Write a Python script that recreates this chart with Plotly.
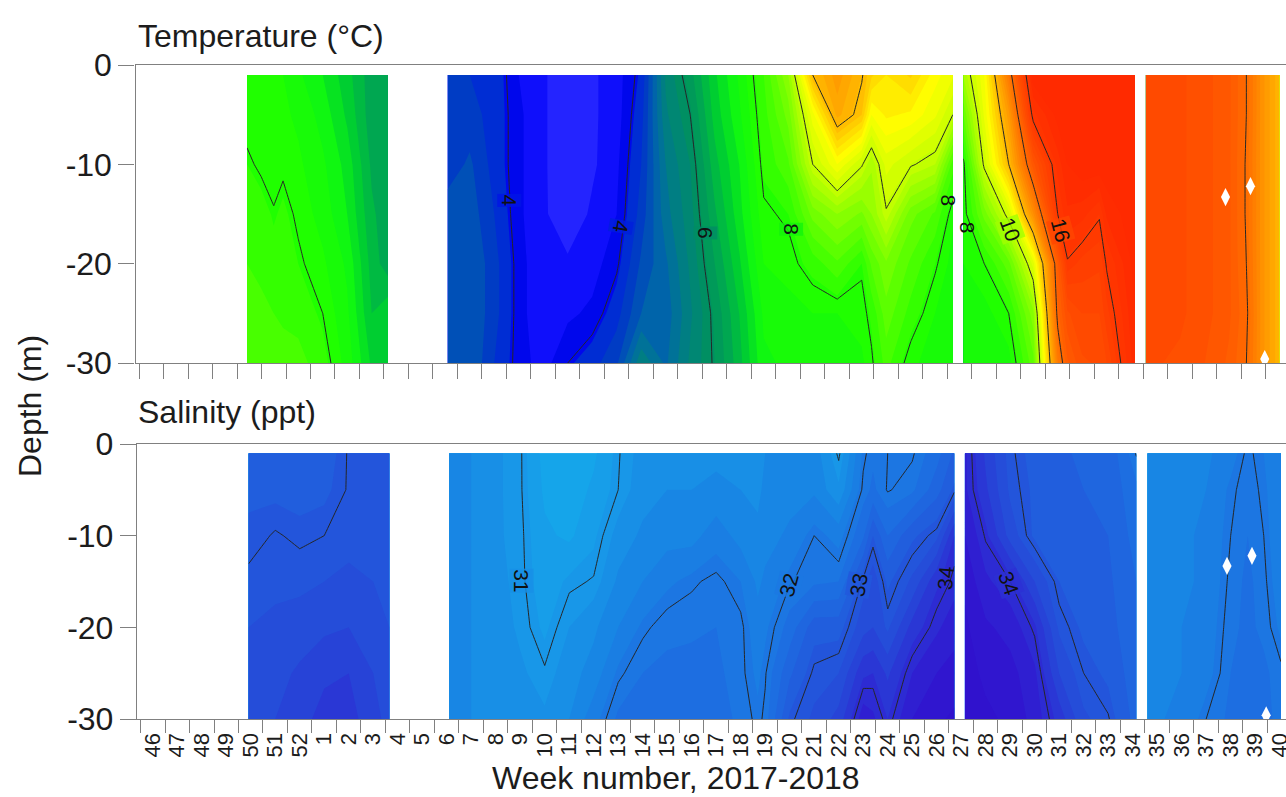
import numpy as np
import plotly.graph_objects as go

# ---------- categories ----------
WEEKS = [46, 47, 48, 49, 50, 51, 52] + list(range(1, 41))
DEPTHS = [-1, -5, -10, -15, -20, -25, -30]

# ---------- column positions (in week slots, 0 = week 46) ----------
X_SEG1_T = [4.41, 4.99, 5.5, 5.88, 6.5, 7.5, 8.5, 9.5, 10.16]
X_SEG1_S = [4.41, 5.5, 6.5, 7.5, 8.5, 9.5, 10.16]
X_SEG2_T = [12.6, 13.5, 14.5, 15.5, 16.5, 17.5, 18.5, 19.5, 20.5, 21.5, 22.5, 23.5, 24.5, 25.5, 26.5, 27.5, 28.5, 29.5, 29.9, 30.5, 31.5, 32.5, 33.22]
X_SEG2_S = [12.6, 13.5, 14.5, 15.5, 16.5, 17.5, 18.5, 19.5, 20.5, 21.5, 22.5, 23.5, 24.5, 25.2, 25.5, 26.5, 27.5, 28.5, 29.5, 29.9, 30.5, 31.5, 32.5, 33.22]
X_SEG3_T = [33.65, 34.5, 35.5, 36.5, 37.5, 37.9, 38.5, 39.2, 39.5, 40.65]
X_SEG3_S = [33.65, 34.5, 35.5, 36.5, 37.5, 38.5, 39.5, 40.65]
X_SEG4 = [41.1, 42.5, 43.5, 44.5, 45.2, 45.85, 46.55]

# ---------- temperature, one row per column, values top to bottom ----------
T_SEG1 = [
    [7.9, 7.9, 8.05, 8.2, 8.3, 8.35, 8.5],
    [7.85, 7.9, 7.95, 8.15, 8.25, 8.35, 8.45],
    [7.9, 7.9, 7.9, 8.02, 8.15, 8.3, 8.45],
    [7.8, 7.85, 7.95, 8.1, 8.15, 8.25, 8.42],
    [7.6, 7.75, 7.85, 7.95, 8.05, 8.2, 8.4],
    [7.3, 7.45, 7.6, 7.7, 7.85, 8.0, 8.15],
    [6.9, 7.0, 7.2, 7.3, 7.5, 7.6, 7.7],
    [6.4, 6.4, 6.5, 6.6, 6.7, 6.8, 7.0],
    [6.4, 6.4, 6.4, 6.4, 6.4, 7.0, 6.8],
]
T_SEG2 = [
    [4.4, 4.4, 4.4, 4.7, 4.8, 4.8, 4.8],
    [4.3, 4.4, 4.6, 4.7, 4.8, 4.8, 4.8],
    [4.2, 4.2, 4.2, 4.3, 4.4, 4.4, 4.3],
    [3.8, 3.85, 3.85, 3.85, 3.9, 3.9, 3.9],
    [3.6, 3.6, 3.6, 3.6, 3.6, 3.6, 3.7],
    [3.3, 3.3, 3.3, 3.35, 3.6, 3.75, 4.0],
    [3.5, 3.5, 3.5, 3.6, 3.7, 3.85, 4.2],
    [3.7, 3.7, 3.75, 3.8, 3.95, 4.2, 4.5],
    [4.1, 4.2, 4.3, 4.4, 4.6, 4.8, 5.5],
    [5.6, 5.5, 5.3, 5.2, 5.0, 4.9, 5.0],
    [6.2, 6.0, 5.8, 5.7, 5.6, 5.5, 5.6],
    [7.0, 6.9, 6.7, 6.5, 6.3, 6.1, 6.05],
    [7.6, 7.5, 7.3, 7.2, 7.0, 6.8, 6.7],
    [8.3, 8.2, 8.1, 7.95, 7.8, 7.6, 7.5],
    [9.3, 8.9, 8.5, 8.05, 7.9, 7.7, 7.6],
    [12.0, 10.7, 10.0, 8.9, 8.15, 7.8, 7.65],
    [12.7, 12.4, 10.8, 9.3, 8.5, 7.8, 7.65],
    [12.05, 11.8, 10.05, 9.0, 8.05, 7.9, 7.75],
    [11.6, 10.8, 9.6, 9.3, 8.6, 8.1, 7.95],
    [11.3, 11.1, 10.4, 9.95, 9.0, 8.7, 8.4],
    [11.6, 11.0, 10.05, 8.9, 8.5, 8.2, 7.85],
    [10.9, 10.6, 9.8, 8.5, 8.05, 7.8, 7.7],
    [10.6, 10.0, 8.4, 7.85, 7.7, 7.6, 7.6],
]
T_SEG3 = [
    [9.6, 8.8, 7.9, 7.85, 7.8, 7.7, 7.6],
    [10.8, 10.6, 10.1, 8.9, 8.0, 7.7, 7.6],
    [13.6, 12.7, 12.0, 10.2, 8.7, 8.0, 7.7],
    [17.0, 16.2, 14.7, 13.0, 10.4, 9.2, 8.7],
    [17.0, 16.9, 16.4, 16.0, 14.5, 14.2, 13.5],
    [17.0, 17.0, 16.8, 16.5, 15.95, 15.0, 14.5],
    [17.0, 17.0, 17.0, 16.4, 15.7, 15.3, 15.0],
    [17.0, 17.0, 17.0, 16.05, 15.6, 15.3, 15.1],
    [17.0, 17.0, 17.0, 16.6, 16.05, 15.7, 15.3],
    [17.0, 17.0, 17.0, 17.0, 16.9, 16.8, 16.7],
]
T_SEG4 = [
    [15.1, 15.1, 15.1, 15.1, 15.1, 15.1, 15.1],
    [15.1, 15.1, 15.1, 15.1, 15.1, 15.1, 15.0],
    [14.9, 14.9, 14.9, 14.9, 14.9, 14.9, 14.8],
    [14.6, 14.6, 14.6, 14.6, 14.6, 14.6, 14.5],
    [14.0, 14.0, 13.95, 13.95, 14.0, 14.1, 14.0],
    [12.9, 12.9, 12.9, 12.9, 12.9, 12.9, 12.9],
    [12.1, 12.1, 12.1, 12.1, 12.1, 12.1, 12.1],
]

# ---------- salinity ----------
S_SEG1 = [
    [32.85, 32.88, 32.92, 33.05, 33.15, 33.25, 33.3],
    [32.8, 32.85, 33.02, 33.1, 33.2, 33.3, 33.4],
    [32.75, 32.82, 32.96, 33.1, 33.25, 33.45, 33.55],
    [32.78, 32.85, 33.0, 33.15, 33.35, 33.6, 33.75],
    [33.02, 33.02, 33.08, 33.2, 33.4, 33.65, 33.75],
    [33.05, 33.05, 33.05, 33.15, 33.25, 33.4, 33.5],
    [33.05, 33.05, 33.05, 33.1, 33.15, 33.25, 33.3],
]
S_SEG2 = [
    [31.5, 31.5, 31.5, 31.5, 31.5, 31.5, 31.5],
    [31.4, 31.4, 31.4, 31.4, 31.4, 31.4, 31.4],
    [31.2, 31.2, 31.2, 31.25, 31.3, 31.3, 31.35],
    [31.03, 31.03, 31.05, 31.06, 31.1, 31.2, 31.25],
    [30.55, 30.6, 30.7, 30.75, 30.85, 31.03, 31.2],
    [30.5, 30.5, 30.6, 30.95, 31.15, 31.3, 31.4],
    [30.6, 30.7, 30.85, 31.02, 31.35, 31.5, 31.8],
    [30.98, 31.0, 31.25, 31.45, 31.65, 31.95, 32.2],
    [31.25, 31.3, 31.45, 31.65, 31.95, 32.15, 32.3],
    [31.35, 31.4, 31.55, 31.85, 32.1, 32.2, 32.3],
    [31.35, 31.4, 31.55, 31.97, 32.1, 32.25, 32.3],
    [31.35, 31.45, 31.8, 32.05, 32.15, 32.2, 32.25],
    [31.3, 31.4, 31.55, 31.9, 32.05, 32.05, 32.1],
    [31.3, 31.35, 31.45, 31.6, 31.75, 31.85, 31.95],
    [31.4, 31.45, 31.55, 31.7, 31.85, 31.98, 32.04],
    [31.5, 31.55, 31.7, 31.98, 32.25, 32.6, 32.95],
    [31.55, 31.6, 32.0, 32.1, 32.8, 33.05, 33.2],
    [30.95, 31.2, 31.8, 32.15, 32.8, 33.15, 33.5],
    [31.95, 32.05, 32.35, 33.05, 33.3, 33.85, 34.3],
    [32.1, 32.2, 32.9, 33.3, 33.4, 33.9, 34.2],
    [32.0, 31.98, 32.4, 32.85, 33.1, 33.6, 33.9],
    [31.97, 32.1, 32.85, 33.2, 33.75, 34.15, 34.4],
    [32.3, 32.55, 33.08, 33.85, 34.1, 34.4, 34.6],
    [32.7, 32.95, 33.9, 34.05, 34.3, 34.5, 34.7],
]
S_SEG3 = [
    [34.2, 34.2, 34.4, 34.6, 34.7, 34.75, 34.75],
    [33.6, 33.7, 33.97, 34.2, 34.45, 34.6, 34.7],
    [33.05, 33.1, 33.3, 34.0, 34.3, 34.5, 34.6],
    [32.8, 32.85, 32.85, 33.4, 33.95, 34.2, 34.3],
    [32.7, 32.75, 32.8, 32.9, 33.1, 33.4, 33.8],
    [32.6, 32.65, 32.7, 32.75, 32.85, 33.0, 33.2],
    [32.6, 32.6, 32.65, 32.7, 32.75, 32.85, 33.02],
    [31.98, 32.2, 32.3, 32.4, 32.45, 32.5, 32.55],
]
S_SEG4 = [
    [31.6, 31.6, 31.6, 31.6, 31.6, 31.6, 31.6],
    [31.6, 31.6, 31.6, 31.6, 31.65, 31.65, 31.7],
    [31.6, 31.65, 31.7, 31.7, 31.75, 31.8, 32.0],
    [31.8, 31.95, 32.0, 32.05, 32.1, 32.15, 32.2],
    [32.05, 32.1, 32.15, 32.2, 32.2, 32.2, 32.2],
    [31.9, 31.95, 32.0, 32.05, 32.1, 32.2, 32.2],
    [31.7, 31.7, 31.7, 31.75, 31.85, 32.05, 32.1],
]

# sampling stations shown as white diamonds
DIAMOND_X = [44.35, 45.37, 45.95]
DIAMOND_Y = [-13.3, -12.2, -29.6]

# ---------- colours ----------
T_STOPS = [3.3, 3.6, 3.9, 4.1, 4.5, 5.0, 5.5, 6.0, 6.5, 7.0, 7.5, 8.0, 9.0, 10.0, 11.0, 12.0, 13.0, 14.0, 15.0, 16.0, 17.0]
T_COLORS = ["#3030ff", "#1414ff", "#0000f0", "#0028d8", "#0040c0", "#0068a8", "#008080", "#009060", "#00a850",
            "#00d030", "#10f810", "#20ff00", "#70ff00", "#c0ff00", "#ffff00", "#ffc000", "#ff9400",
            "#ff7000", "#ff5200", "#ff3c00", "#ff2a00"]
S_STOPS = [30.4, 31.0, 31.5, 32.0, 32.5, 33.0, 33.5, 34.0, 34.5, 35.0]
S_COLORS = ["#14a8ea", "#1898e8", "#1888e4", "#1c78e2", "#1e68e0", "#2258dc", "#2648d8", "#2c30d4", "#3018d0", "#3010cc"]

W, H = 1300, 797          # page is wider than the window: the reference is cropped on the right
GREY = "#808080"
INK = "#1c1c1c"
FONT = "Liberation Sans"


def scale(stops, colors):
    lo, hi = stops[0], stops[-1]
    return [[(v - lo) / (hi - lo), c] for v, c in zip(stops, colors)]


def add_panel(fig, segs, stops, colors, band, lstart, lend, lstep, xa, ya):
    cs = scale(stops, colors)
    for xs, rows in segs:
        z = np.array(rows).T.tolist()
        fig.add_trace(go.Contour(
            x=xs, y=DEPTHS, z=z, colorscale=cs, zmin=stops[0], zmax=stops[-1], showscale=False,
            autocontour=False,
            contours=dict(start=stops[0] - band, end=stops[-1] + band, size=band, coloring="fill"),
            line=dict(width=0, smoothing=0), hoverinfo="skip", xaxis=xa, yaxis=ya))
        fig.add_trace(go.Contour(
            x=xs, y=DEPTHS, z=z, showscale=False, autocontour=False,
            contours=dict(start=lstart, end=lend, size=lstep, coloring="none"),
            line=dict(color="#262626", width=1, smoothing=0), hoverinfo="skip", xaxis=xa, yaxis=ya))


fig = go.Figure()
add_panel(fig, [(X_SEG1_T, T_SEG1), (X_SEG2_T, T_SEG2), (X_SEG3_T, T_SEG3), (X_SEG4, T_SEG4)],
          T_STOPS, T_COLORS, 0.25, 4, 16, 2, "x", "y")
add_panel(fig, [(X_SEG1_S, S_SEG1), (X_SEG2_S, S_SEG2), (X_SEG3_S, S_SEG3), (X_SEG4, S_SEG4)],
          S_STOPS, S_COLORS, 0.25, 31, 34, 1, "x2", "y2")

diamond = dict(symbol="diamond-tall", size=13, color="white", line=dict(width=0))
fig.add_trace(go.Scatter(x=DIAMOND_X, y=DIAMOND_Y, mode="markers", marker=diamond,
                         hoverinfo="skip", showlegend=False, xaxis="x", yaxis="y"))
fig.add_trace(go.Scatter(x=DIAMOND_X, y=DIAMOND_Y, mode="markers", marker=diamond,
                         hoverinfo="skip", showlegend=False, xaxis="x3", yaxis="y2"))

slots = list(range(len(WEEKS)))
axis_common = dict(showgrid=False, zeroline=False, linecolor=GREY, linewidth=1.4, showline=True, automargin=False)
yaxis_common = dict(axis_common, range=[-30, 0], tickmode="array", tickvals=[-30, -20, -10, 0],
                    ticktext=["-30", "-20", "-10", "0"], ticks="outside", ticklen=16,
                    tickcolor=GREY, tickwidth=1.2, tickfont=dict(family=FONT, size=32, color=INK))
fig.update_layout(
    template="none", width=W, height=H, margin=dict(l=0, r=0, t=0, b=0), paper_bgcolor="white", plot_bgcolor="white",
    showlegend=False,
    xaxis=dict(axis_common, domain=[135.5 / W, 1], range=[-0.143, 47.39], mirror=True, anchor="y",
               tickmode="array", tickvals=slots, showticklabels=False, ticks="outside", ticklen=15,
               tickcolor=GREY, tickwidth=1.2),
    yaxis=dict(yaxis_common, domain=[1 - 363 / H, 1 - 65 / H], anchor="x"),
    xaxis2=dict(axis_common, domain=[137 / W, 1], range=[-0.143, 47.33], mirror=True, anchor="y2",
                tickmode="array", tickvals=[s + 0.5 for s in slots], ticktext=[str(w) for w in WEEKS],
                ticks="", ticklabelstandoff=4, tickangle=-90, tickfont=dict(family=FONT, size=22, color=INK)),
    xaxis3=dict(showgrid=False, zeroline=False, domain=[137 / W, 1], range=[-0.143, 47.33], overlaying="x2", anchor="y2",
                side="bottom", tickmode="array", tickvals=slots, showticklabels=False, ticks="outside", ticklen=13,
                tickcolor=GREY, tickwidth=1.2, showline=False, automargin=False),
    yaxis2=dict(yaxis_common, domain=[1 - 719 / H, 1 - 444 / H], anchor="x2"),
)

# contour labels: text, week slot, depth, angle, patch colour
CLEAR = "rgba(0,0,0,0)"
T_LABELS = [
    ("4", 15.13, -13.6, 90, "rgba(0,20,230,0.8)"), ("4", 19.65, -16.3, 100, "rgba(0,30,220,0.8)"),
    ("6", 23.1, -16.9, 90, "rgba(0,140,100,0.8)"), ("8", 26.6, -16.5, 90, "rgba(20,245,10,0.8)"),
    ("8", 33.05, -13.6, 90, CLEAR), ("8", 33.8, -16.4, 90, CLEAR),
    ("10", 35.55, -16.6, 70, "rgba(160,255,0,0.8)"), ("16", 37.6, -16.6, 75, "rgba(255,70,0,0.8)"),
]
S_LABELS = [
    ("31", 15.55, -14.9, 90, "rgba(24,144,230,0.8)"), ("32", 26.45, -15.4, -75, "rgba(28,120,226,0.8)"),
    ("33", 29.3, -15.4, -80, "rgba(34,88,220,0.8)"), ("34", 32.88, -14.6, -85, CLEAR),
    ("34", 35.45, -15.2, 70, "rgba(44,48,212,0.8)"),
]
for txt, xv, yv, ang, bg in T_LABELS:
    fig.add_annotation(text=txt, x=xv, y=yv, xref="x", yref="y", showarrow=False, textangle=ang, bgcolor=bg,
                       borderpad=0, font=dict(family=FONT, size=21, color="#111111"))
for txt, xv, yv, ang, bg in S_LABELS:
    fig.add_annotation(text=txt, x=xv, y=yv, xref="x2", yref="y2", showarrow=False, textangle=ang, bgcolor=bg,
                       borderpad=0, font=dict(family=FONT, size=21, color="#111111"))


def paper_text(text, px, py, size, anchor="left", angle=0):
    fig.add_annotation(text=text, x=px / W, y=1 - py / H, xref="paper", yref="paper", showarrow=False,
                       xanchor=anchor, yanchor="middle", textangle=angle,
                       font=dict(family=FONT, size=size, color=INK))


paper_text("Temperature (°C)", 136, 36, 32)
paper_text("Salinity (ppt)", 136, 412, 32)
paper_text("Depth (m)", 30, 406, 32, anchor="center", angle=-90)
paper_text("Week number, 2017-2018", 676, 778, 32, anchor="center")

fig.write_html("out.html", config=dict(displayModeBar=False),
               post_script="document.body.style.margin='0';document.documentElement.style.overflow='hidden';")
